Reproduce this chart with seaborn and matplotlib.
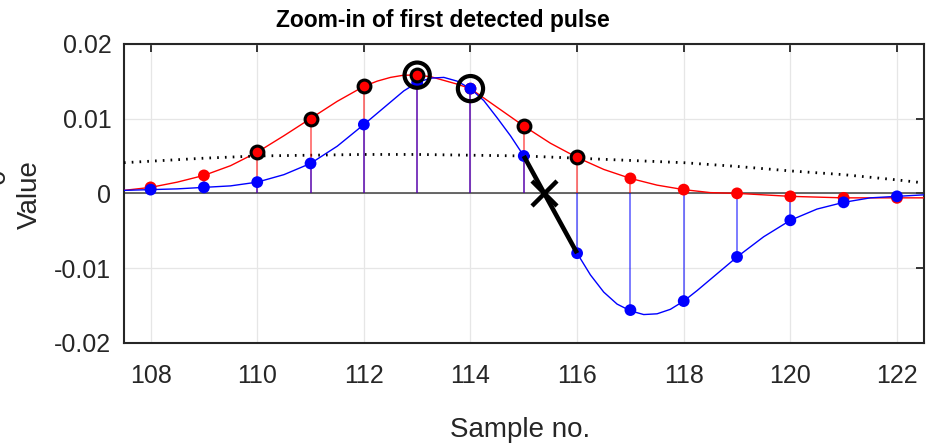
import numpy as np
import pandas as pd
import matplotlib
matplotlib.use("Agg")
import matplotlib.pyplot as plt
import seaborn as sns

# --- data ---
samples = list(range(108, 123))
red_vals = [0.0008, 0.0024, 0.0055, 0.0100, 0.0143, 0.0158, 0.0140, 0.0090,
            0.0048, 0.0020, 0.0005, 0.0000, -0.0004, -0.0006, -0.0006]
blue_vals = [0.0005, 0.0008, 0.0015, 0.0040, 0.0092, 0.0148, 0.0140, 0.0050,
             -0.0080, -0.0156, -0.0144, -0.0085, -0.0036, -0.0012, -0.0004]

# smooth curves (finer steps near the peaks)
red_curve_x = [107.5, 108, 108.5, 109, 109.5, 110, 110.5, 111, 111.5, 112,
               112.25, 112.5, 112.75, 113, 113.25, 113.5, 113.75, 114, 114.5,
               115, 115.5, 116, 116.5, 117, 117.5, 118, 118.5, 119, 119.5,
               120, 120.5, 121, 121.5, 122, 122.5]
red_curve = [0.0004, 0.0008, 0.0015, 0.0024, 0.0037, 0.0055, 0.0077, 0.0100,
             0.0123, 0.0143, 0.0150, 0.0155, 0.0158, 0.0158, 0.0156, 0.0151,
             0.0146, 0.0140, 0.0115, 0.0090, 0.0067, 0.0048, 0.0032, 0.0020,
             0.0011, 0.0005, 0.0001, 0.0000, -0.0002, -0.0004, -0.0005,
             -0.0006, -0.0006, -0.0006, -0.0006]
blue_curve_x = [107.5, 108, 108.5, 109, 109.5, 110, 110.5, 111, 111.5, 112,
                112.25, 112.5, 112.75, 113, 113.25, 113.5, 113.75, 114, 114.25,
                114.5, 114.75, 115, 115.25, 115.5, 115.75, 116, 116.25, 116.5,
                116.75, 117, 117.25, 117.5, 117.75, 118, 118.25, 118.5, 119,
                119.5, 120, 120.5, 121, 121.5, 122, 122.5]
blue_curve = [0.0004, 0.0005, 0.0006, 0.0008, 0.0010, 0.0015, 0.0025, 0.0040,
              0.0063, 0.0092, 0.0107, 0.0122, 0.0137, 0.0148, 0.0154, 0.0155,
              0.0150, 0.0140, 0.0124, 0.0101, 0.0077, 0.0050, 0.0018, -0.0015,
              -0.0049, -0.0080, -0.0109, -0.0132, -0.0148, -0.0157, -0.0162,
              -0.0161, -0.0155, -0.0144, -0.0130, -0.0115, -0.0085, -0.0058,
              -0.0036, -0.0021, -0.0012, -0.0006, -0.0004, -0.0002]

# dotted envelope / threshold
env_x = [107.5, 108, 109, 110, 111, 112, 113, 114, 115, 116, 117, 118, 119,
         120, 121, 122, 122.5]
env_vals = [0.0041, 0.0043, 0.0047, 0.0050, 0.0051, 0.0052, 0.0052, 0.0051,
            0.0050, 0.0047, 0.0044, 0.0041, 0.0036, 0.0030, 0.0025, 0.0018,
            0.0014]

edge_samples = [110, 111, 112, 113, 115, 116]   # red points with black edge
peak_samples = [113, 114]                        # ringed samples
cross_from, cross_to = 115, 116                  # zero-crossing segment

x_ticks = [108, 110, 112, 114, 116, 118, 120, 122]
y_ticks = [-0.02, -0.01, 0, 0.01, 0.02]
y_tick_labels = ["-0.02", "-0.01", "0", "0.01", "0.02"]

# --- frames ---
pts = pd.DataFrame({"sample": samples, "red": red_vals, "blue": blue_vals})
red_line = pd.DataFrame({"x": red_curve_x, "v": red_curve})
blue_line = pd.DataFrame({"x": blue_curve_x, "v": blue_curve})
env = pd.DataFrame({"x": env_x, "v": env_vals})

sns.set_theme(style="whitegrid")
plt.rcParams["font.family"] = ["Liberation Sans", "DejaVu Sans"]
txt = "#262626"

fig = plt.figure(figsize=(9.32, 4.44), dpi=100)
ax = fig.add_axes([0.133, 0.2275, 0.858, 0.674])
ax.set_facecolor("white")

ax.axhline(0, color="#404040", lw=1.1, zorder=2)

sns.lineplot(data=red_line, x="x", y="v", ax=ax, color="red", lw=1.0,
             sort=False, zorder=3)
sns.lineplot(data=blue_line, x="x", y="v", ax=ax, color="blue", lw=1.0,
             sort=False, zorder=3)
sns.lineplot(data=env, x="x", y="v", ax=ax, color="black", lw=2.0,
             linestyle=(0, (0.6, 2.2)), zorder=3)

# stems
ax.vlines(pts["sample"], 0, pts["red"], color="red", lw=1.2, alpha=0.6, zorder=3)
ax.vlines(pts["sample"], 0, pts["blue"], color="blue", lw=1.2, alpha=0.6, zorder=3)

sns.scatterplot(data=pts, x="sample", y="red", ax=ax, color="red", s=72,
                edgecolor="none", zorder=4)
sns.scatterplot(data=pts, x="sample", y="blue", ax=ax, color="blue", s=72,
                edgecolor="none", zorder=5)

hi = pts[pts["sample"].isin(edge_samples)]
sns.scatterplot(data=hi, x="sample", y="red", ax=ax, color="red", s=85,
                edgecolor="black", linewidth=2.2, zorder=6)

pk = pts[pts["sample"].isin(peak_samples)]
pk_y = pk[["red", "blue"]].max(axis=1)
ax.scatter(pk["sample"], pk_y, s=330, facecolor="none", edgecolor="black",
           linewidth=3.0, zorder=7)

# zero crossing segment and marker
b0 = pts.loc[pts["sample"] == cross_from, "blue"].iloc[0]
b1 = pts.loc[pts["sample"] == cross_to, "blue"].iloc[0]
x_cross = cross_from + b0 / (b0 - b1)
ax.plot([cross_from, cross_to], [b0, b1], color="black", lw=3.3,
        solid_capstyle="butt", zorder=8)
ax.plot([x_cross], [0], marker="x", color="black", ms=18, mew=3.2, zorder=9)

ax.set_xlim(107.5, 122.5)
ax.set_ylim(-0.02, 0.02)
ax.set_xticks(x_ticks)
ax.set_yticks(y_ticks)
ax.set_yticklabels(y_tick_labels)
ax.set_xlabel("")
ax.set_ylabel("")
ax.grid(True, color="#e6e6e6", lw=0.9)
ax.set_axisbelow(True)
for sp in ax.spines.values():
    sp.set_color(txt)
    sp.set_linewidth(1.5)
ax.tick_params(direction="in", length=6, width=1.3, top=True, right=True,
               colors=txt, labelsize=18)
ax.tick_params(axis="x", pad=15)
ax.tick_params(axis="y", pad=9)

fig.text(443 / 932, 1 - 21 / 444, "Zoom-in of first detected pulse",
         ha="center", va="center", fontsize=16.5, fontweight="bold", color="black")
fig.text(520 / 932, 1 - 430 / 444, "Sample no.", ha="center", va="center",
         fontsize=20, color=txt)
fig.text(30 / 932, 1 - 195 / 444, "Value", ha="center", va="center",
         rotation=90, fontsize=20, color=txt)
fig.text(-2 / 932, 1 - 176 / 444, "0", ha="center", va="center",
         rotation=90, fontsize=20, color=txt)

fig.savefig("out.png", dpi=100)
